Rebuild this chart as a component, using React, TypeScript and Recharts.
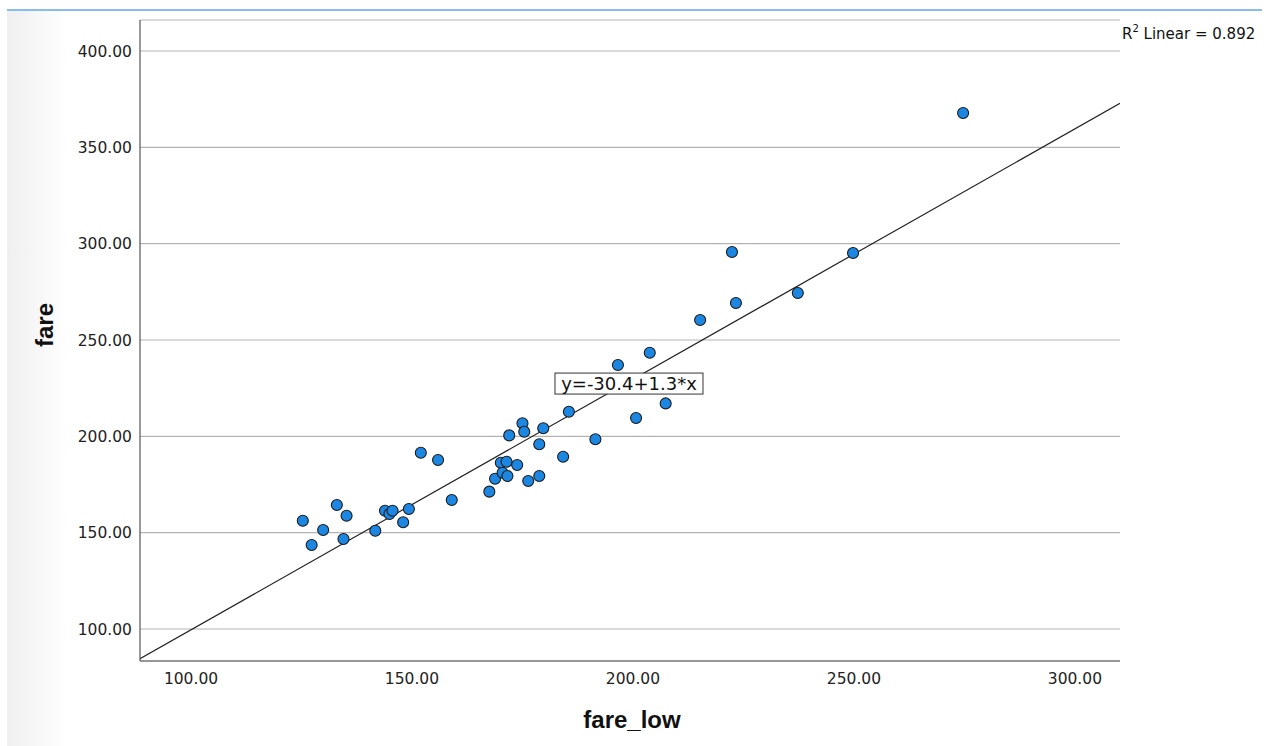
import {
  CartesianGrid,
  ReferenceDot,
  ReferenceLine,
  Scatter,
  ScatterChart,
  XAxis,
  YAxis,
} from "recharts";

// values
const fareLow = [
  125.3, 127.3, 129.9, 133.0, 134.5, 135.2, 141.7, 143.9, 144.9, 145.6, 148.0,
  149.3, 152.0, 155.9, 159.0, 167.5, 168.8, 170.1, 170.5, 171.4, 171.6, 172.0,
  173.8, 175.0, 175.4, 176.3, 178.8, 178.8, 179.7, 184.2, 185.5, 191.5, 196.6,
  200.7, 203.8, 207.4, 215.2, 222.4, 223.3, 237.3, 249.8, 274.7,
];
const fare = [
  156.2, 143.6, 151.4, 164.4, 146.7, 158.8, 151.0, 161.4, 159.7, 161.4, 155.4,
  162.3, 191.5, 187.7, 167.0, 171.3, 178.0, 186.3, 181.1, 186.8, 179.4, 200.5,
  185.1, 206.8, 202.4, 176.8, 195.9, 179.4, 204.2, 189.4, 212.8, 198.5, 237.0,
  209.5, 243.4, 217.1, 260.4, 295.7, 269.2, 274.4, 295.2, 367.8,
];

const xTicks = [100, 150, 200, 250, 300];
const yTicks = [100, 150, 200, 250, 300, 350, 400];
const xDomain: [number, number] = [88.46, 310.2];
const yDomain: [number, number] = [83.4, 416.1];

// fit line y = -30.4 + 1.3x
const intercept = -30.4;
const slope = 1.3;
const fitLabel = "y=-30.4+1.3*x";
const fitLabelAt = { x: 199.1, y: 227.4 };
const rSquared = "0.892";

const points = fareLow.map((x, i) => ({ fare_low: x, fare: fare[i] }));
const fitSegment = xDomain.map((x) => ({ x, y: intercept + slope * x }));

const tickStyle = {
  fontFamily: "DejaVu Sans",
  fontSize: 15.5,
  fill: "#222",
};

const Dot = (props: any) => (
  <circle
    cx={props.cx}
    cy={props.cy}
    r={5.5}
    fill="#1c87e3"
    stroke="#1a1a1a"
    strokeWidth={1.1}
  />
);

const FitBox = (props: any) => (
  <g>
    <rect
      x={props.cx - 74}
      y={props.cy - 10.5}
      width={148}
      height={21}
      fill="#fff"
      stroke="#333"
      strokeWidth={1}
    />
    <text
      x={props.cx}
      y={props.cy + 6.5}
      textAnchor="middle"
      fontFamily="DejaVu Sans"
      fontSize={18}
      fill="#111"
    >
      {fitLabel}
    </text>
  </g>
);

export default function App() {
  return (
    <div
      style={{
        position: "absolute",
        left: 0,
        top: 0,
        width: 1271,
        height: 746,
        background: "#fff",
        overflow: "hidden",
      }}
    >
      <div
        style={{
          position: "absolute",
          left: 7,
          top: 11,
          width: 60,
          height: 735,
          background: "linear-gradient(to right, #efefef, #ffffff)",
        }}
      />
      <div
        style={{
          position: "absolute",
          left: 7,
          top: 9,
          width: 1255,
          height: 2,
          background: "#86bdec",
        }}
      />
      <div style={{ position: "absolute", left: 0, top: 0 }}>
        <ScatterChart
          width={1271}
          height={746}
          margin={{ top: 20, right: 151, bottom: 55, left: 60 }}
        >
          <CartesianGrid vertical={false} stroke="#b4b4b4" strokeWidth={1.2} />
          <XAxis
            type="number"
            dataKey="fare_low"
            domain={xDomain}
            ticks={xTicks}
            allowDataOverflow
            height={30}
            tickLine={false}
            tickSize={0}
            tickMargin={12}
            tickFormatter={(v: number) => v.toFixed(2)}
            tick={tickStyle}
            axisLine={{ stroke: "#555", strokeWidth: 1.2 }}
          />
          <YAxis
            type="number"
            dataKey="fare"
            domain={yDomain}
            ticks={yTicks}
            allowDataOverflow
            width={80}
            tickLine={false}
            tickSize={0}
            tickMargin={8}
            tickFormatter={(v: number) => v.toFixed(2)}
            tick={tickStyle}
            axisLine={{ stroke: "#555", strokeWidth: 1.2 }}
          />
          <ReferenceLine
            segment={fitSegment}
            stroke="#222"
            strokeWidth={1.2}
            ifOverflow="hidden"
          />
          <Scatter data={points} shape={Dot} isAnimationActive={false} />
          <ReferenceDot
            x={fitLabelAt.x}
            y={fitLabelAt.y}
            shape={FitBox}
            ifOverflow="visible"
          />
        </ScatterChart>
      </div>
      <div
        style={{
          position: "absolute",
          left: 45,
          top: 325,
          transform: "translate(-50%, -50%) rotate(-90deg)",
          fontFamily: "Liberation Sans",
          fontWeight: "bold",
          fontSize: 24,
          color: "#111",
          whiteSpace: "nowrap",
        }}
      >
        fare
      </div>
      <div
        style={{
          position: "absolute",
          left: 632,
          top: 720,
          transform: "translate(-50%, -50%)",
          fontFamily: "Liberation Sans",
          fontWeight: "bold",
          fontSize: 24,
          color: "#111",
          whiteSpace: "nowrap",
        }}
      >
        fare_low
      </div>
      <div
        style={{
          position: "absolute",
          left: 1122,
          top: 24,
          fontFamily: "DejaVu Sans",
          fontSize: 15,
          color: "#111",
          whiteSpace: "nowrap",
          lineHeight: "20px",
        }}
      >
        R<sup style={{ fontSize: 10, verticalAlign: "top", lineHeight: "10px" }}>2</sup> Linear = {rSquared}
      </div>
    </div>
  );
}
